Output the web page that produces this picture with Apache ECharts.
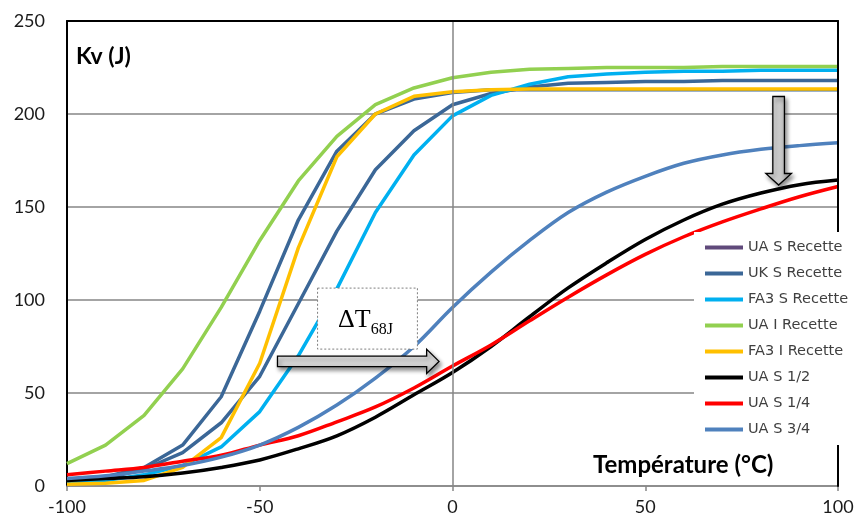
<!DOCTYPE html>
<html><head><meta charset="utf-8">
<script src="https://cdn.jsdelivr.net/npm/echarts@6/dist/echarts.min.js"></script>
<style>html,body{margin:0;padding:0;background:#fff}#c{width:858px;height:524px}</style>
</head><body><div id="c"></div>
<script>
// Temperature (°C) sample points
const temps = [-100,-90,-80,-70,-60,-50,-40,-30,-20,-10,0,10,20,30,40,50,60,70,80,90,100];
// Kv (J) values per series
const uaSRecette  = [3,5,10,22,48,94,143,180,200,208,211.5,213,213,213,213,213,213,213,213,213,213];
const ukSRecette  = [2,4,9,18,34,59,98,137,170,191,205,211,214.5,216.5,217,217.5,217.5,218,218,218,218];
const fa3SRecette = [2,3,6,11,21,40,70,106,147,178,199,210,216,220,221.5,222.5,223,223,223.5,223.5,223.5];
const uaIRecette  = [12,22,38,63,96,132,164,188,205,214,219.5,222.5,224,224.5,225,225,225,225.5,225.5,225.5,225.5];
const fa3IRecette = [1,1.5,3,10,26,66,128,177,200,209.5,212,213,213.5,213.5,213.5,213.5,213.5,213.5,213.5,213.5,213.5];
const uaS12 = [3,4,5,7,10,14,20,27,37,49,61,75,91,106.5,120,132.5,143,151.5,157.5,162,164.5];
const uaS14 = [6,8,10,13.3,16.5,22,27,34.5,42.5,52.7,64.5,75.8,88.8,101.5,113.5,124.5,134,142,149,155.5,161];
const uaS34 = [4,5.5,8,11,15.5,22,31.5,43.5,58,75,96,115,132,147,158,166.5,173.5,178,181,183,184.5];

const seriesNames = ['UA S Recette','UK S Recette','FA3 S Recette','UA I Recette','FA3 I Recette','UA S 1/2','UA S 1/4','UA S 3/4'];
const seriesValues = [uaSRecette, ukSRecette, fa3SRecette, uaIRecette, fa3IRecette, uaS12, uaS14, uaS34];
const lineColors = ['#3b6797','#3b6797','#00b0f0','#92d050','#ffc000','#000000','#ff0000','#4f81bd'];
const legendColors = ['#604a7b','#3b6797','#00b0f0','#92d050','#ffc000','#000000','#ff0000','#4f81bd'];
const smoothFlags = [false,false,false,false,false,0.35,0.35,0.35];

const FONT = 'Lato';
const series = seriesNames.map((n,i)=>({
  name:n, type:'line', symbol:'none', smooth:smoothFlags[i], z:3,
  data: temps.map((t,k)=>[t, seriesValues[i][k]]),
  lineStyle:{color:lineColors[i], width:3.5},
  itemStyle:{color:legendColors[i]}
}));
series.unshift({
  name:'zero', type:'line', data:[], z:1, silent:true,
  markLine:{silent:true, symbol:['none','none'], label:{show:false},
    lineStyle:{color:'#868686', type:'solid', width:1.5}, data:[{xAxis:0}]}
});

const option = {
  animation:false,
  backgroundColor:'#ffffff',
  grid:{left:67,right:20,top:21,bottom:38},
  xAxis:[
    {type:'value',min:-100,max:100,interval:50,
     axisLine:{show:true,onZero:false,lineStyle:{color:'#868686',width:1.5}},
     axisTick:{show:true,length:5,lineStyle:{color:'#868686',width:1.5}},
     axisLabel:{color:'#1a1a1a',fontSize:18,fontFamily:FONT,margin:12},
     splitLine:{show:false}},
    {type:'value',position:'top',min:-100,max:100,interval:50,z:5,
     axisLine:{show:true,onZero:false,lineStyle:{color:'#000',width:2}},
     axisTick:{show:false},axisLabel:{show:false},splitLine:{show:false}}
  ],
  yAxis:[
    {type:'value',min:0,max:250,interval:50,
     axisLine:{show:true,onZero:false,lineStyle:{color:'#000',width:2}},
     axisTick:{show:false},
     axisLabel:{color:'#1a1a1a',fontSize:18,fontFamily:FONT,margin:22},
     splitLine:{show:true,lineStyle:{color:'#868686',width:1.5}}},
    {type:'value',position:'right',min:0,max:250,interval:50,z:5,
     axisLine:{show:true,onZero:false,lineStyle:{color:'#000',width:2}},
     axisTick:{show:false},axisLabel:{show:false},splitLine:{show:false}}
  ],
  legend:{
    orient:'vertical', left:694, top:232, padding:[8,6,8,11],
    backgroundColor:'#ffffff', z:10,
    itemWidth:38, itemHeight:4, itemGap:11, icon:'rect',
    textStyle:{fontFamily:'DejaVu Sans',fontSize:14.5,color:'#404040',lineHeight:14},
    data:seriesNames
  },
  series:series
};

const chart = echarts.init(document.getElementById('c'), null, {renderer:'canvas'});
chart.setOption(option);

function px(x,y){ return chart.convertToPixel({seriesIndex:1},[x,y]); }

// Annotation positions in data space
const boxA = px(-35,106.4), boxB = px(-9.1,73.6);
const arL = px(-45.4,67), arB = px(-6.7,67), arT = px(-3.5,67);
const dnTop = px(84.6,209.4), dnBase = px(84.6,168), dnTip = px(84.6,161.8);

const yc = arL[1];
const rightArrow = [[arL[0],yc-5.3],[arB[0],yc-5.3],[arB[0],yc-12],[arT[0],yc],[arB[0],yc+12],[arB[0],yc+5.3],[arL[0],yc+5.3]];
const xc = dnTop[0];
const downArrow = [[xc-5.8,dnTop[1]],[xc+5.8,dnTop[1]],[xc+5.8,dnBase[1]],[xc+12.8,dnBase[1]],[xc,dnTip[1]],[xc-12.8,dnBase[1]],[xc-5.8,dnBase[1]]];

chart.setOption({graphic:[
  {type:'text', left:76, top:45, z:20, style:{text:'Kv (J)', font:'bold 23px '+FONT, fill:'#000'}},
  {type:'text', left:593, top:453, z:20, style:{text:'Température (°C)', font:'bold 24px '+FONT, fill:'#000'}},
  {type:'rect', z:20, shape:{x:boxA[0], y:boxA[1], width:boxB[0]-boxA[0], height:boxB[1]-boxA[1]},
   style:{fill:'#fff', stroke:'#7f7f7f', lineWidth:1, lineDash:[2,2]}},
  {type:'text', z:21, x:(boxA[0]+boxB[0])/2-2, y:(boxA[1]+boxB[1])/2+2,
   style:{text:'{a|ΔT}{b|68J}', align:'center', verticalAlign:'middle',
     rich:{a:{font:'26px "Liberation Serif"', fill:'#000', verticalAlign:'bottom'},
           b:{font:'16px "Liberation Serif"', fill:'#000', verticalAlign:'bottom', padding:[0,0,-4,0]}}}},
  {type:'polygon', z:20, shape:{points:rightArrow},
   style:{fill:new echarts.graphic.LinearGradient(0,0,0,1,[{offset:0,color:'#f4f4f4'},{offset:1,color:'#bdbdbd'}]),
     stroke:'#000', lineWidth:1.3, shadowBlur:4, shadowOffsetX:2, shadowOffsetY:3, shadowColor:'rgba(0,0,0,0.45)'}},
  {type:'polygon', z:20, shape:{points:downArrow},
   style:{fill:new echarts.graphic.LinearGradient(0,0,1,0,[{offset:0,color:'#f4f4f4'},{offset:1,color:'#a8a8a8'}]),
     stroke:'#000', lineWidth:1.3, shadowBlur:4, shadowOffsetX:2, shadowOffsetY:3, shadowColor:'rgba(0,0,0,0.45)'}}
]});
</script></body></html>
